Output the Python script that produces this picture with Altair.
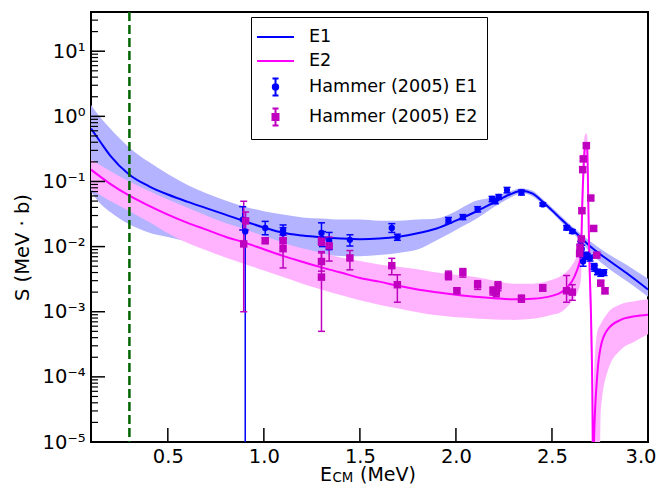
import altair as alt
import pandas as pd

FONT = "DejaVu Sans"

# ---------------- model curves ----------------
E1_X = [0.10, 0.15, 0.20, 0.30, 0.40, 0.50, 0.60, 0.70, 0.80, 0.90, 1.00,
        1.10, 1.20, 1.30, 1.40, 1.50, 1.60, 1.70, 1.80, 1.90, 2.00,
        2.10, 2.20, 2.28, 2.34, 2.40, 2.44, 2.50, 2.55, 2.60, 2.65, 2.70,
        2.80, 2.90, 3.00]
E1_Y = [0.65, 0.40, 0.25, 0.127, 0.085, 0.063, 0.049, 0.039, 0.031, 0.0245, 0.0197,
        0.0163, 0.0148, 0.0139, 0.0133, 0.0130, 0.0133, 0.0142, 0.0160, 0.0190, 0.0250,
        0.0340, 0.0480, 0.0630, 0.0723, 0.0650, 0.0525, 0.0360, 0.0260, 0.0190, 0.0138, 0.0100,
        0.0060, 0.0037, 0.0022]
E1_LO = [0.070, 0.045, 0.034, 0.022, 0.0165, 0.0140, 0.0120, 0.0110, 0.0100, 0.0093, 0.0088,
         0.0083, 0.0079, 0.0075, 0.0072, 0.0071, 0.0074, 0.0080, 0.0090, 0.0125, 0.0180,
         0.0260, 0.0410, 0.0560, 0.0660, 0.0590, 0.0480, 0.0330, 0.0235, 0.0170, 0.0120, 0.0080,
         0.0045, 0.0028, 0.0017]
E1_HI = [1.50, 0.95, 0.65, 0.33, 0.20, 0.13, 0.089, 0.066, 0.051, 0.041, 0.035,
         0.031, 0.028, 0.027, 0.026, 0.026, 0.025, 0.025, 0.026, 0.027, 0.035,
         0.050, 0.058, 0.070, 0.079, 0.072, 0.058, 0.040, 0.029, 0.021, 0.0158, 0.0120,
         0.0075, 0.0050, 0.0032]

E2_X = [0.10, 0.20, 0.30, 0.40, 0.50, 0.60, 0.70, 0.80, 0.90, 1.00,
        1.10, 1.20, 1.30, 1.40, 1.50, 1.60, 1.70, 1.80, 1.90, 2.00,
        2.10, 2.20, 2.30, 2.40, 2.50, 2.55, 2.60, 2.63, 2.65,
        2.659, 2.67, 2.679, 2.6837, 2.689, 2.694,
        2.7048, 2.7126, 2.715, 2.7189,
        2.7367, 2.754, 2.789, 2.858, 2.93, 3.00]
E2_Y = [0.152, 0.092, 0.0605, 0.0425, 0.0309, 0.0233, 0.0182, 0.0142, 0.0115, 0.0091,
        0.0072, 0.00585, 0.0048, 0.0040, 0.0033, 0.0029, 0.0025, 0.0022, 0.00199, 0.00182,
        0.0017, 0.00161, 0.00155, 0.00158, 0.00175, 0.0020, 0.0028, 0.0043, 0.0072,
        0.06, 0.30, 0.36, 0.33, 0.05, 0.0079,
        5.3e-4, 1.07e-5, 1e-9, 1e-5,
        1.15e-4, 2.9e-4, 5.3e-4, 7.5e-4, 8.5e-4, 9e-4]
E2_LO = [0.075, 0.050, 0.035, 0.024, 0.016, 0.0115, 0.0088, 0.0068, 0.0054, 0.0043,
         0.0034, 0.0027, 0.0022, 0.0018, 0.0015, 0.00128, 0.00112, 0.00098, 0.00088, 0.00082,
         0.00079, 0.00076, 0.00075, 0.00078, 0.00090, 0.0010, 0.0014, 0.0019, 0.0030,
         0.02, 0.15, 0.25, 0.2, 0.02, 0.003,
         1e-4, 1e-9, 1e-9, 1e-9,
         1e-9, 3e-5, 1.2e-4, 2.6e-4, 3.5e-4, 4.5e-4]
E2_HI = [0.22, 0.145, 0.100, 0.072, 0.053, 0.040, 0.030, 0.023, 0.0185, 0.0145,
         0.0115, 0.0094, 0.0080, 0.0068, 0.0060, 0.0053, 0.0049, 0.0045, 0.0040, 0.0037,
         0.0034, 0.0030, 0.0027, 0.0027, 0.0031, 0.0036, 0.0050, 0.0075, 0.015,
         0.12, 0.50, 0.55, 0.50, 0.10, 0.02,
         2e-3, 1e-4, 1e-9, 1e-4,
         5e-4, 6.5e-4, 9.5e-4, 1.3e-3, 1.45e-3, 1.55e-3]

# ---------------- Hammer (2005) data points ----------------
H1_E = [0.890, 0.903, 1.007, 1.100, 1.100, 1.300, 1.305, 1.340, 1.448, 1.666, 1.695,
        1.961, 2.036, 2.113, 2.188, 2.205, 2.223, 2.266, 2.341, 2.452, 2.576, 2.606,
        2.649, 2.655, 2.662, 2.676, 2.684, 2.698, 2.719, 2.722, 2.737, 2.754, 2.771]
H1_S = [0.0260, 0.0171, 0.0193, 0.0178, 0.0160, 0.0162, 0.0130, 0.0125, 0.0127, 0.0193, 0.0139,
        0.0254, 0.0284, 0.0375, 0.0538, 0.0500, 0.0579, 0.0737, 0.0680, 0.0445, 0.0195, 0.0171,
        0.0107, 0.0092, 0.0059, 0.0074, 0.0071, 0.0067, 0.0050, 0.0047, 0.0041, 0.0039, 0.0040]
H1_LO = [0.0180, 1e-9, 0.0152, 0.0150, 0.0130, 0.0107, 0.0100, 0.0090, 0.0102, 0.0165, 0.0125,
         0.0230, 0.0260, 0.0340, 0.0490, 0.0455, 0.0530, 0.0670, 0.0620, 0.0420, 0.0180, 0.0160,
         0.0095, 0.0080, 0.0050, 0.0066, 0.0064, 0.0060, 0.0045, 0.0042, 0.0037, 0.0035, 0.0036]
H1_HI = [0.0410, 0.0260, 0.0244, 0.0215, 0.0195, 0.0232, 0.0170, 0.0165, 0.0152, 0.0225, 0.0155,
         0.0280, 0.0310, 0.0410, 0.0590, 0.0550, 0.0630, 0.0810, 0.0740, 0.0470, 0.0210, 0.0182,
         0.0120, 0.0105, 0.0068, 0.0082, 0.0078, 0.0074, 0.0055, 0.0052, 0.0045, 0.0043, 0.0044]

H2_E = [0.895, 0.905, 1.007, 1.100, 1.100, 1.300, 1.300, 1.300, 1.340, 1.448, 1.666, 1.695,
        1.961, 2.005, 2.036, 2.113, 2.193, 2.210, 2.219, 2.341, 2.452, 2.576, 2.606,
        2.644, 2.646, 2.653, 2.656, 2.660, 2.663, 2.679, 2.702, 2.717, 2.733, 2.754, 2.776]
H2_S = [0.0110, 0.0248, 0.0123, 0.0123, 0.0093, 0.0121, 0.0059, 0.0034, 0.0103, 0.0067, 0.0051, 0.0026,
        0.0036, 0.0021, 0.0040, 0.0026, 0.0021, 0.0020, 0.0025, 0.00158, 0.0023, 0.0021, 0.0020,
        0.0078, 0.0098, 0.0131, 0.0356, 0.152, 0.222, 0.355, 0.0557, 0.0190, 0.0074, 0.00275, 0.0021]
H2_LO = [0.0010, 0.0180, 0.0112, 0.0112, 0.0047, 0.0105, 0.0042, 0.0005, 0.0060, 0.0044, 0.0037, 0.0014,
         0.0031, 0.0019, 0.0034, 0.0022, 0.0018, 0.0017, 0.0021, 0.00140, 0.0021, 0.0014, 0.0015,
         0.0072, 0.0090, 0.0120, 0.0330, 0.140, 0.205, 0.330, 0.0515, 0.0175, 0.0068, 0.00250, 0.0019]
H2_HI = [0.0497, 0.0340, 0.0135, 0.0135, 0.0151, 0.0138, 0.0080, 0.0084, 0.0140, 0.0087, 0.0066, 0.0037,
         0.0042, 0.0023, 0.0046, 0.0030, 0.0024, 0.0023, 0.0029, 0.00180, 0.0026, 0.0036, 0.0026,
         0.0085, 0.0106, 0.0142, 0.0385, 0.165, 0.240, 0.380, 0.0600, 0.0205, 0.0080, 0.00300, 0.0023]

# ---------------- axes / labels ----------------
X_TICKS = [0.5, 1.0, 1.5, 2.0, 2.5, 3.0]
Y_TICKS = [1e-5, 1e-4, 1e-3, 1e-2, 1e-1, 1.0, 10.0]
Y_MINOR = [m * 10.0 ** k for k in range(-5, 2) for m in range(2, 10) if m * 10.0 ** k <= 40]
Y_TICK_TEXT = [(1, "10¹"), (0, "10⁰"), (-1, "10⁻¹"), (-2, "10⁻²"),
               (-3, "10⁻³"), (-4, "10⁻⁴"), (-5, "10⁻⁵")]
SERIES = ["E1", "E2", "Hammer (2005) E1", "Hammer (2005) E2"]
THRESHOLD = [0.3]
Y_MIN, Y_MAX = 1e-5, 40

BLUE = "#0000ff"
MAG = "#ff00ff"
MAG_D = "#bf00bf"
BAND1 = "#b3b3ff"
BAND2 = "#ffb3ff"

W, H = 557, 430
TICK_LEN = 14
MINOR_LEN = 7

xs = alt.Scale(domain=[0.1, 3.0], nice=False, zero=False)
ys = alt.Scale(type="log", domain=[Y_MIN, Y_MAX], nice=False)

lg = "round(log(datum.value)/LN10)"
label_expr = " : ".join(f"{lg} == {k} ? '{s}'" for k, s in Y_TICK_TEXT) + " : ''"

ax_x_lab = alt.Axis(orient="bottom", values=X_TICKS, format=".1f", ticks=False, domain=False,
                    grid=False, labelFont=FONT, labelFontSize=19.5, labelColor="black",
                    labelPadding=5, labelFlush=True, labelFlushOffset=8, labelOverlap=False, title=None)
ax_y_lab = alt.Axis(orient="left", values=Y_TICKS, labelExpr=label_expr, ticks=False, domain=False,
                    grid=False, labelFont=FONT, labelFontSize=19.5, labelColor="black",
                    labelPadding=6, labelFlush=False, labelOverlap=False,
                    title="S (MeV · b)", titleFont=FONT, titleFontSize=19.5,
                    titleFontWeight="normal", titleColor="black", titleX=-69, titleY=235,
                    titleAlign="center", titleBaseline="middle", titleAngle=270)

# ---------------- tables ----------------
band1_df = pd.DataFrame({"E": E1_X, "lo": E1_LO, "hi": E1_HI})
band2_df = pd.DataFrame({"E": E2_X, "lo": E2_LO, "hi": E2_HI})
line1_df = pd.DataFrame({"E": E1_X, "S": E1_Y})
line2_df = pd.DataFrame({"E": E2_X, "S": E2_Y})
p1 = pd.DataFrame({"E": H1_E, "S": H1_S, "lo": H1_LO, "hi": H1_HI, "series": SERIES[2]})
p2 = pd.DataFrame({"E": H2_E, "S": H2_S, "lo": H2_LO, "hi": H2_HI, "series": SERIES[3]})
pts = pd.concat([p1, p2], ignore_index=True)
caps = pd.concat([
    pts[["E", "series"]].assign(v=pts["lo"]),
    pts[["E", "series"]].assign(v=pts["hi"]),
], ignore_index=True)
legend_df = pd.DataFrame({"series": SERIES, "E": [1.0] * 4, "S": [1e-12] * 4})
xtick_df = pd.DataFrame({"x": X_TICKS})
ytick_df = pd.DataFrame({"y": Y_TICKS})
yminor_df = pd.DataFrame({"y": Y_MINOR})

err_color = alt.Scale(domain=[SERIES[2], SERIES[3]], range=[BLUE, MAG_D])

# legend glyphs (unit square scaled by sqrt(symbolSize)/2 = 10 px)
PATH_L = "M-1.85,0H1.85"
PATH_C = ("M0,-0.85V0.85M-0.3,-0.85H0.3M-0.3,0.85H0.3"
          "M0.27,0A0.27,0.27,0,1,1,-0.27,0A0.27,0.27,0,1,1,0.27,0Z")
PATH_S = ("M0,-0.85V0.85M-0.3,-0.85H0.3M-0.3,0.85H0.3"
          "M-0.3,-0.3H0.3V0.3H-0.3Z")

LEG = alt.Legend(orient="none", legendX=160, legendY=5, title=None, strokeColor="black",
                 fillColor="white", padding=9, cornerRadius=0, labelFont=FONT,
                 labelFontSize=17.6, labelColor="black", labelOffset=22.5, symbolOffset=4.5,
                 symbolSize=400, symbolStrokeWidth=2, rowPadding=4, labelLimit=400, symbolOpacity=1,
                 labelExpr="datum.label + '   '")

# ---------------- layers ----------------
band1 = alt.Chart(band1_df).mark_area(color=BAND1, opacity=1, clip=True, interpolate="monotone").encode(
    x=alt.X("E:Q", scale=xs, axis=ax_x_lab),
    y=alt.Y("lo:Q", scale=ys, axis=ax_y_lab),
    y2="hi:Q")
band2 = alt.Chart(band2_df).mark_area(color=BAND2, opacity=1, clip=True, interpolate="monotone").encode(
    x=alt.X("E:Q", scale=xs, axis=None),
    y=alt.Y("lo:Q", scale=ys, axis=None),
    y2="hi:Q")
line1 = alt.Chart(line1_df).mark_line(color=BLUE, strokeWidth=2, clip=True, interpolate="monotone").encode(
    x=alt.X("E:Q", scale=xs, axis=None),
    y=alt.Y("S:Q", scale=ys, axis=None))
line2 = alt.Chart(line2_df).mark_line(color=MAG, strokeWidth=2, clip=True, interpolate="monotone").encode(
    x=alt.X("E:Q", scale=xs, axis=None),
    y=alt.Y("S:Q", scale=ys, axis=None))
errs = alt.Chart(pts).mark_rule(strokeWidth=1.5, clip=True).encode(
    x=alt.X("E:Q", scale=xs, axis=None),
    y=alt.Y("lo:Q", scale=ys, axis=None),
    y2="hi:Q",
    color=alt.Color("series:N", scale=err_color, legend=None))
cap = alt.Chart(caps).mark_tick(orient="horizontal", size=7, thickness=1.5, clip=True, opacity=1).encode(
    x=alt.X("E:Q", scale=xs, axis=None),
    y=alt.Y("v:Q", scale=ys, axis=None),
    color=alt.Color("series:N", scale=err_color, legend=None))
pt1 = alt.Chart(p1).mark_point(shape="circle", filled=True, color=BLUE, size=40, opacity=1, clip=True).encode(
    x=alt.X("E:Q", scale=xs, axis=None),
    y=alt.Y("S:Q", scale=ys, axis=None))
pt2 = alt.Chart(p2).mark_point(shape="square", filled=True, color=MAG_D, size=56, opacity=1, clip=True).encode(
    x=alt.X("E:Q", scale=xs, axis=None),
    y=alt.Y("S:Q", scale=ys, axis=None))
leg = alt.Chart(legend_df).mark_point(filled=True, opacity=1, clip=True, strokeWidth=2).encode(
    x=alt.X("E:Q", scale=xs, axis=None),
    y=alt.Y("S:Q", scale=ys, axis=None),
    fill=alt.Fill("series:N", scale=alt.Scale(domain=SERIES, range=[BLUE, MAG, BLUE, MAG_D]), legend=LEG),
    stroke=alt.Stroke("series:N", scale=alt.Scale(domain=SERIES, range=[BLUE, MAG, BLUE, MAG_D]), legend=LEG),
    shape=alt.Shape("series:N", scale=alt.Scale(domain=SERIES, range=[PATH_L, PATH_L, PATH_C, PATH_S]), legend=LEG))
vline = alt.Chart(pd.DataFrame({"x": THRESHOLD})).mark_rule(color="#006400", strokeWidth=2.5, strokeDash=[9, 4]).encode(
    x=alt.X("x:Q", scale=xs, axis=None))

# inward ticks: short rules pointing into the plot from the bottom and left edges
xticks = alt.Chart(xtick_df).mark_rule(color="black", strokeWidth=1.5).encode(
    x=alt.X("x:Q", scale=xs, axis=None),
    y=alt.value(H - TICK_LEN), y2=alt.value(H))
yticks = alt.Chart(ytick_df).mark_rule(color="black", strokeWidth=1.5).encode(
    y=alt.Y("y:Q", scale=ys, axis=None),
    x=alt.value(0), x2=alt.value(TICK_LEN))
yminor = alt.Chart(yminor_df).mark_rule(color="black", strokeWidth=1.2).encode(
    y=alt.Y("y:Q", scale=ys, axis=None),
    x=alt.value(0), x2=alt.value(MINOR_LEN))

t_e = alt.Chart(pd.DataFrame({"t": ["E"]})).mark_text(align="left", baseline="alphabetic", font=FONT, fontSize=19, color="black").encode(
    x=alt.value(229), y=alt.value(469), text="t:N")
t_cm = alt.Chart(pd.DataFrame({"t": ["CM"]})).mark_text(align="left", baseline="alphabetic", font=FONT, fontSize=13.3, color="black").encode(
    x=alt.value(241.5), y=alt.value(470), text="t:N")
t_mev = alt.Chart(pd.DataFrame({"t": ["(MeV)"]})).mark_text(align="left", baseline="alphabetic", font=FONT, fontSize=19, color="black").encode(
    x=alt.value(269), y=alt.value(469), text="t:N")

chart = alt.layer(band1, band2, line1, line2, errs, cap, pt1, pt2, leg, vline,
                  xticks, yticks, yminor, t_e, t_cm, t_mev).resolve_axis(
    x="independent", y="independent"
).properties(
    width=W, height=H,
    padding={"left": 83, "top": 4, "right": 9, "bottom": 42},
    autosize=alt.AutoSizeParams(type="none"),
    background="white",
).configure_view(stroke="black", strokeWidth=2).configure_axis(grid=False)

chart.save("out.html", embed_options={"renderer": "svg", "actions": False})
